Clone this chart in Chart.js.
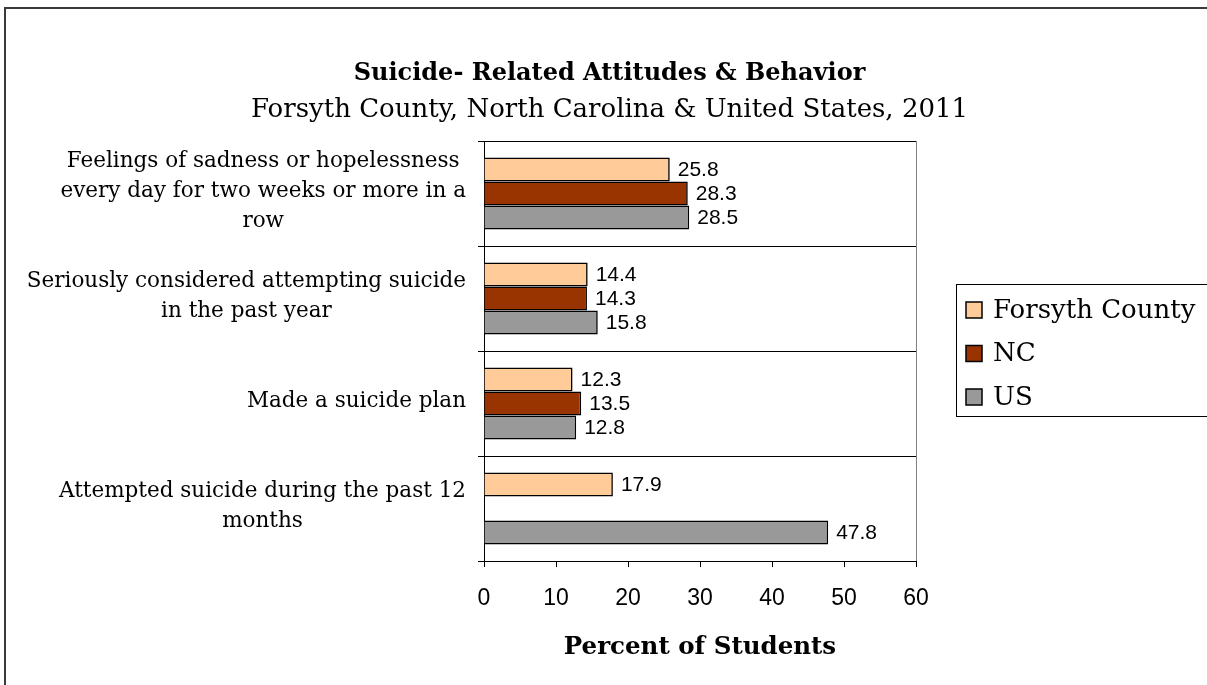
<!DOCTYPE html>
<html><head><meta charset="utf-8">
<script src="https://cdn.jsdelivr.net/npm/chart.js@4/dist/chart.umd.min.js"></script>
<style>html,body{margin:0;padding:0;background:#fff;overflow:hidden}#wrap{width:1207px;height:685px;position:relative}</style>
</head><body><div id="wrap"><canvas id="c" width="1207" height="685"></canvas></div>
<script>
const categories = [
  ["Feelings of sadness or hopelessness", "every day for two weeks or more in a", "row"],
  ["Seriously considered attempting suicide", "in the past year"],
  ["Made a suicide plan"],
  ["Attempted suicide during the past 12", "months"]
];
const seriesNames = ["Forsyth County", "NC", "US"];
const forsythValues = [25.8, 14.4, 12.3, 17.9];
const ncValues = [28.3, 14.3, 13.5, null];
const usValues = [28.5, 15.8, 12.8, 47.8];
const xTickValues = [0, 10, 20, 30, 40, 50, 60];
const titleText = "Suicide- Related Attitudes & Behavior";
const subtitleText = "Forsyth County, North Carolina & United States, 2011";
const axisTitleText = "Percent of Students";
const seriesColors = ["#FFCC99", "#993300", "#999999"];

const SERIF = '"DejaVu Serif", serif';
const SANS = '"Liberation Sans", Arial, sans-serif';

const framePlugin = {
  id: 'frame',
  beforeDraw(chart) {
    const ctx = chart.ctx;
    ctx.save();
    ctx.fillStyle = '#fff';
    ctx.fillRect(0, 0, chart.width, chart.height);
    ctx.strokeStyle = '#3a3a3a';
    ctx.lineWidth = 2;
    ctx.beginPath();
    ctx.moveTo(5, chart.height + 2);
    ctx.lineTo(5, 8);
    ctx.lineTo(chart.width + 2, 8);
    ctx.stroke();
    ctx.restore();
  },
  afterDraw(chart) {
    const ctx = chart.ctx;
    const a = chart.chartArea;
    ctx.save();
    // plot right border
    ctx.strokeStyle = '#808080';
    ctx.lineWidth = 1;
    ctx.beginPath();
    ctx.moveTo(Math.round(a.right) + 0.5, a.top);
    ctx.lineTo(Math.round(a.right) + 0.5, a.bottom);
    ctx.stroke();
    // category labels (right-aligned block, lines centred)
    const ys = chart.scales.y;
    ctx.font = '21.5px ' + SERIF;
    ctx.fillStyle = '#000';
    ctx.textAlign = 'center';
    ctx.textBaseline = 'middle';
    const lh = 30;
    const rightX = 466;
    categories.forEach((lines, i) => {
      const cy = ys.getPixelForValue(i) - 2;
      const bw = Math.max(...lines.map(l => ctx.measureText(l).width));
      const cx = rightX - bw / 2;
      lines.forEach((l, k) => {
        ctx.fillText(l, cx, cy - (lines.length - 1) * lh / 2 + k * lh);
      });
    });
    // value labels
    ctx.font = '21px ' + SANS;
    ctx.textAlign = 'left';
    chart.data.datasets.forEach((ds, di) => {
      const meta = chart.getDatasetMeta(di);
      meta.data.forEach((el, j) => {
        const v = ds.data[j];
        if (v === null || v === undefined) return;
        ctx.fillText(v.toFixed(1), el.x + 8, el.y + 1);
      });
    });
    // legend
    ctx.strokeStyle = '#000';
    ctx.lineWidth = 1;
    ctx.strokeRect(956.5, 284.5, 300, 132);
    ctx.font = '26px ' + SERIF;
    seriesNames.forEach((name, i) => {
      const y = 310 + i * 43.5;
      ctx.fillStyle = seriesColors[i];
      ctx.fillRect(966, y - 8, 16, 16);
      ctx.lineWidth = 1.5;
      ctx.strokeRect(966, y - 8, 16, 16);
      ctx.fillStyle = '#000';
      ctx.textAlign = 'left';
      ctx.fillText(name, 993, y + 1);
    });
    ctx.restore();
  }
};

const values = [forsythValues, ncValues, usValues];
new Chart(document.getElementById('c'), {
  type: 'bar',
  data: {
    labels: categories,
    datasets: seriesNames.map((n, i) => ({
      label: n,
      data: values[i],
      backgroundColor: seriesColors[i],
      borderColor: '#000',
      borderWidth: 1.6,
      categoryPercentage: 0.686,
      barPercentage: 1.0
    }))
  },
  options: {
    indexAxis: 'y',
    responsive: false,
    animation: false,
    layout: { padding: { left: 12, right: 0, top: 0, bottom: 0 } },
    plugins: {
      legend: { display: false },
      tooltip: { enabled: false },
      title: {
        display: true, text: titleText, color: '#000',
        font: { family: SERIF, size: 24, weight: 'bold', lineHeight: 1.2 },
        padding: { top: 59.6, bottom: 6 }
      },
      subtitle: {
        display: true, text: subtitleText, color: '#000',
        font: { family: SERIF, size: 26, weight: 'normal', lineHeight: 1.2 },
        padding: { top: 0, bottom: 15.4 }
      }
    },
    scales: {
      x: {
        type: 'linear', min: 0, max: 60,
        afterBuildTicks: s => { s.ticks = xTickValues.map(v => ({ value: v })); },
        afterFit: s => { s.height = 124; },
        grid: { display: true, drawOnChartArea: false, drawTicks: true, tickLength: 6, color: '#000', lineWidth: 1 },
        border: { display: true, color: '#000', width: 1 },
        ticks: { color: '#000', font: { family: SANS, size: 23 }, padding: 18, maxRotation: 0 },
        title: {
          display: true, text: axisTitleText, color: '#000',
          font: { family: SERIF, size: 24.5, weight: 'bold', lineHeight: 1.2 },
          padding: { top: 0, bottom: 22.3 }
        }
      },
      y: {
        type: 'category',
        afterFit: s => { s.width = 472; },
        grid: { display: true, offset: true, drawOnChartArea: true, drawTicks: true, tickLength: 6, color: '#000', lineWidth: 1 },
        border: { display: true, color: '#000', width: 1 },
        ticks: { display: false }
      },
      yR: {
        type: 'category', axis: 'y', position: 'right', display: true,
        afterFit: s => { s.width = 291; },
        grid: { display: false },
        border: { display: false },
        ticks: { display: false }
      }
    }
  },
  plugins: [framePlugin]
});
</script>
</body></html>
